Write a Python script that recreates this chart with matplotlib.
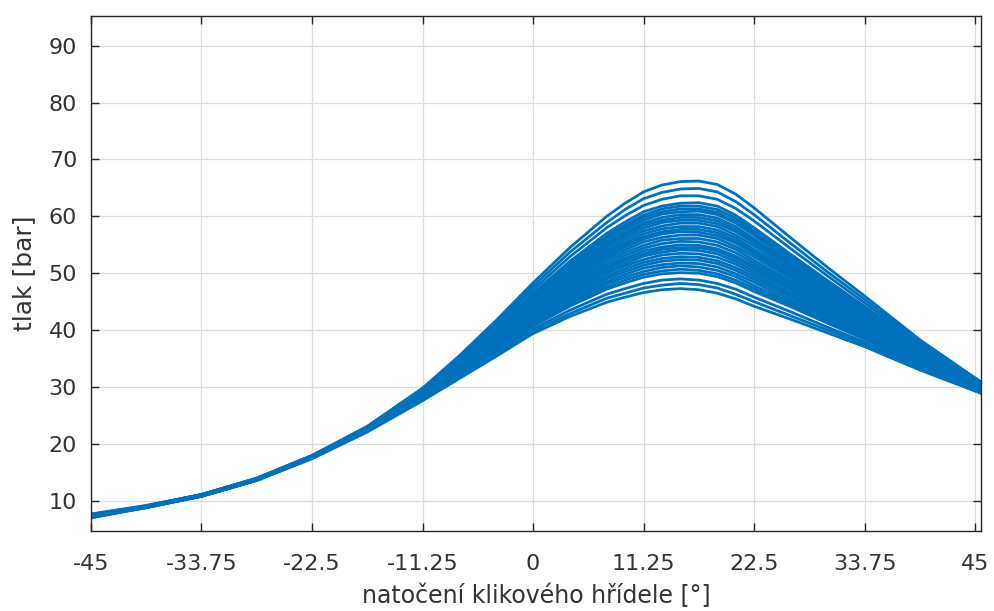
#!/usr/bin/env python3
"""Cylinder pressure traces vs. crank angle (many cycles overlaid)."""

from __future__ import annotations

import matplotlib

matplotlib.use("Agg")
import matplotlib.pyplot as plt

CRANK_DEG = [
    -45.0, -39.375, -33.75, -28.125, -22.5, -16.875, -11.25, -7.5, -3.75, 0.0,
    3.75, 7.5, 9.375, 11.25, 13.125, 15.0, 16.875, 18.75, 20.625, 22.5,
    26.25, 30.0, 33.75, 39.375, 45.6,
]

# pressure [bar], one row per recorded cycle (lowest peak first)
PRESSURE_BAR = [
    [7.0, 8.8, 10.8, 13.6, 17.4, 22.1, 27.6, 31.5, 35.4, 39.4, 42.4, 44.9, 45.8, 46.6, 47.1, 47.3, 47.1, 46.5, 45.5, 44.2, 41.9, 39.5, 37.1, 33.0, 28.9],
    [7.3, 8.9, 10.9, 13.7, 17.5, 22.2, 27.7, 31.7, 35.7, 39.8, 42.9, 45.6, 46.5, 47.4, 47.9, 48.2, 48.0, 47.4, 46.3, 45.0, 42.5, 40.0, 37.5, 33.2, 29.0],
    [7.2, 8.8, 10.8, 13.6, 17.5, 22.2, 27.8, 31.9, 36.0, 40.2, 43.5, 46.3, 47.3, 48.2, 48.8, 49.0, 48.8, 48.2, 47.2, 45.8, 43.2, 40.5, 37.9, 33.5, 29.1],
    [7.4, 9.0, 10.9, 13.8, 17.6, 22.3, 27.9, 32.1, 36.4, 40.7, 44.2, 47.2, 48.3, 49.3, 49.9, 50.1, 50.0, 49.4, 48.3, 46.8, 44.1, 41.2, 38.4, 33.8, 29.2],
    [7.1, 8.9, 10.9, 13.7, 17.5, 22.3, 28.0, 32.2, 36.5, 41.0, 44.6, 47.6, 48.8, 49.8, 50.4, 50.7, 50.5, 49.9, 48.8, 47.3, 44.5, 41.6, 38.7, 34.0, 29.3],
    [7.3, 8.9, 10.8, 13.6, 17.6, 22.3, 28.1, 32.3, 36.7, 41.3, 44.9, 48.1, 49.3, 50.3, 51.0, 51.3, 51.1, 50.5, 49.4, 47.8, 44.9, 41.9, 39.0, 34.1, 29.3],
    [7.5, 9.0, 11.0, 13.8, 17.7, 22.3, 28.1, 32.5, 36.9, 41.5, 45.3, 48.5, 49.8, 50.9, 51.5, 51.8, 51.7, 51.1, 49.9, 48.4, 45.3, 42.3, 39.2, 34.3, 29.4],
    [7.2, 8.8, 10.9, 13.7, 17.5, 22.4, 28.2, 32.6, 37.1, 41.8, 45.7, 49.0, 50.3, 51.4, 52.1, 52.4, 52.3, 51.7, 50.5, 48.9, 45.8, 42.6, 39.5, 34.4, 29.4],
    [7.4, 9.0, 10.9, 13.7, 17.6, 22.4, 28.3, 32.7, 37.3, 42.1, 46.0, 49.4, 50.8, 51.9, 52.6, 52.9, 52.8, 52.2, 51.0, 49.4, 46.2, 43.0, 39.8, 34.6, 29.5],
    [7.3, 9.0, 11.0, 13.8, 17.7, 22.4, 28.3, 32.8, 37.5, 42.3, 46.4, 49.9, 51.3, 52.4, 53.2, 53.5, 53.4, 52.8, 51.6, 49.9, 46.6, 43.3, 40.0, 34.8, 29.6],
    [7.1, 8.9, 10.9, 13.7, 17.6, 22.5, 28.4, 32.9, 37.7, 42.6, 46.8, 50.3, 51.7, 53.0, 53.7, 54.1, 54.0, 53.4, 52.1, 50.4, 47.1, 43.6, 40.3, 34.9, 29.6],
    [7.5, 9.1, 11.0, 13.8, 17.7, 22.5, 28.5, 33.0, 37.8, 42.8, 47.1, 50.7, 52.2, 53.4, 54.2, 54.5, 54.5, 53.9, 52.6, 50.9, 47.4, 43.9, 40.5, 35.0, 29.7],
    [7.3, 8.9, 10.8, 13.6, 17.5, 22.5, 28.5, 33.1, 38.0, 43.1, 47.4, 51.1, 52.6, 53.9, 54.6, 55.0, 54.9, 54.3, 53.0, 51.3, 47.8, 44.2, 40.8, 35.2, 29.7],
    [7.4, 9.0, 11.0, 13.8, 17.6, 22.5, 28.6, 33.3, 38.2, 43.3, 47.7, 51.5, 53.1, 54.4, 55.2, 55.6, 55.5, 54.9, 53.6, 51.8, 48.2, 44.6, 41.0, 35.3, 29.8],
    [7.2, 8.9, 10.9, 13.7, 17.7, 22.6, 28.6, 33.4, 38.4, 43.6, 48.1, 52.0, 53.6, 54.9, 55.8, 56.1, 56.1, 55.5, 54.2, 52.3, 48.6, 44.9, 41.3, 35.5, 29.8],
    [7.5, 9.1, 11.0, 13.9, 17.8, 22.6, 28.7, 33.5, 38.6, 43.9, 48.5, 52.5, 54.1, 55.5, 56.3, 56.7, 56.7, 56.1, 54.7, 52.9, 49.1, 45.3, 41.6, 35.7, 29.9],
    [7.3, 9.0, 10.9, 13.7, 17.6, 22.6, 28.8, 33.6, 38.7, 44.1, 48.8, 52.9, 54.6, 56.0, 56.9, 57.3, 57.2, 56.6, 55.3, 53.4, 49.5, 45.6, 41.8, 35.8, 30.0],
    [7.4, 9.0, 11.0, 13.8, 17.7, 22.7, 28.8, 33.7, 38.9, 44.3, 49.1, 53.3, 55.0, 56.4, 57.3, 57.7, 57.7, 57.1, 55.7, 53.8, 49.8, 45.9, 42.0, 35.9, 30.0],
    [7.6, 9.1, 11.1, 13.9, 17.8, 22.7, 28.9, 33.8, 39.1, 44.6, 49.4, 53.7, 55.4, 56.9, 57.8, 58.2, 58.2, 57.6, 56.2, 54.2, 50.2, 46.2, 42.3, 36.1, 30.1],
    [7.3, 9.0, 11.0, 13.8, 17.8, 22.7, 28.9, 33.9, 39.2, 44.8, 49.8, 54.1, 55.9, 57.4, 58.3, 58.8, 58.8, 58.2, 56.7, 54.8, 50.6, 46.5, 42.5, 36.2, 30.1],
    [7.2, 8.9, 10.9, 13.8, 17.7, 22.7, 29.0, 34.1, 39.4, 45.1, 50.1, 54.6, 56.4, 57.9, 58.9, 59.3, 59.3, 58.7, 57.3, 55.3, 51.1, 46.9, 42.8, 36.4, 30.2],
    [7.5, 9.0, 11.0, 13.9, 17.8, 22.8, 29.1, 34.2, 39.6, 45.3, 50.5, 54.9, 56.8, 58.4, 59.3, 59.8, 59.8, 59.2, 57.7, 55.7, 51.4, 47.2, 43.0, 36.5, 30.2],
    [7.4, 9.1, 11.1, 13.9, 17.9, 22.8, 29.1, 34.3, 39.8, 45.5, 50.8, 55.3, 57.2, 58.8, 59.8, 60.3, 60.3, 59.7, 58.2, 56.1, 51.8, 47.4, 43.2, 36.7, 30.3],
    [7.7, 9.2, 11.1, 14.0, 17.9, 22.8, 29.2, 34.4, 39.9, 45.8, 51.1, 55.8, 57.7, 59.3, 60.4, 60.8, 60.9, 60.3, 58.8, 56.7, 52.2, 47.8, 43.5, 36.8, 30.3],
    [7.3, 9.0, 11.0, 13.8, 17.8, 22.9, 29.2, 34.5, 40.1, 46.0, 51.4, 56.2, 58.1, 59.8, 60.8, 61.3, 61.3, 60.7, 59.2, 57.1, 52.6, 48.1, 43.7, 37.0, 30.4],
    [7.5, 9.1, 11.1, 13.9, 17.9, 22.9, 29.3, 34.6, 40.3, 46.3, 51.7, 56.5, 58.5, 60.2, 61.3, 61.8, 61.8, 61.2, 59.7, 57.5, 52.9, 48.4, 44.0, 37.1, 30.4],
    [7.4, 9.0, 11.0, 13.9, 17.9, 22.9, 29.4, 34.7, 40.4, 46.5, 52.1, 57.0, 59.0, 60.8, 61.8, 62.3, 62.4, 61.8, 60.2, 58.0, 53.3, 48.7, 44.2, 37.2, 30.5],
    [7.4, 9.0, 11.0, 13.9, 17.9, 23.0, 29.5, 35.0, 40.9, 47.1, 52.9, 58.0, 60.1, 61.9, 63.0, 63.6, 63.6, 63.0, 61.4, 59.2, 54.3, 49.5, 44.8, 37.6, 30.6],
    [7.5, 9.1, 11.1, 13.9, 17.9, 23.0, 29.7, 35.2, 41.3, 47.7, 53.7, 58.9, 61.2, 63.1, 64.2, 64.8, 64.9, 64.3, 62.6, 60.3, 55.2, 50.2, 45.4, 37.9, 30.8],
    [7.6, 9.1, 11.1, 14.0, 18.0, 23.1, 29.8, 35.5, 41.7, 48.3, 54.5, 60.0, 62.3, 64.3, 65.5, 66.1, 66.2, 65.6, 63.9, 61.5, 56.2, 51.0, 46.0, 38.3, 30.9],
]

X_TICKS = [-45, -33.75, -22.5, -11.25, 0, 11.25, 22.5, 33.75, 45]
X_TICK_LABELS = ["-45", "-33.75", "-22.5", "-11.25", "0", "11.25", "22.5", "33.75", "45"]
Y_TICKS = [10, 20, 30, 40, 50, 60, 70, 80, 90]

LINE_COLOR = "#0072BD"
TEXT_COLOR = "#333333"


def main() -> None:
    plt.rcParams["font.family"] = ["DejaVu Sans"]

    fig = plt.figure(figsize=(9.94, 6.11), dpi=100)
    ax = fig.add_axes([0.0915, 0.1309, 0.8954, 0.8429])

    for trace in PRESSURE_BAR:
        ax.plot(CRANK_DEG, trace, color=LINE_COLOR, linewidth=2.0, solid_joinstyle="round")

    ax.set_xlim(-45, 45.6)
    ax.set_ylim(4.7, 95.2)
    ax.set_xticks(X_TICKS, X_TICK_LABELS)
    ax.set_yticks(Y_TICKS)
    ax.grid(True, color="#dcdcdc", linewidth=0.9)
    ax.set_axisbelow(True)

    for spine in ax.spines.values():
        spine.set_color("#262626")
        spine.set_linewidth(1.0)
    ax.tick_params(
        direction="in", length=5.5, width=1.0, color="#262626",
        top=True, right=True, labelsize=16, labelcolor=TEXT_COLOR,
    )
    ax.tick_params(axis="x", pad=16.5)
    ax.tick_params(axis="y", pad=10)

    ax.set_xlabel("natočení klikového hřídele [°]", fontsize=17, color=TEXT_COLOR, va="baseline")
    ax.xaxis.set_label_coords(0.5, -0.1398)
    ax.set_ylabel("tlak [bar]", fontsize=18, color=TEXT_COLOR, va="center")
    ax.yaxis.set_label_coords(-0.0753, 0.5)

    fig.savefig("out.png", dpi=100)
    plt.close(fig)


if __name__ == "__main__":
    main()
